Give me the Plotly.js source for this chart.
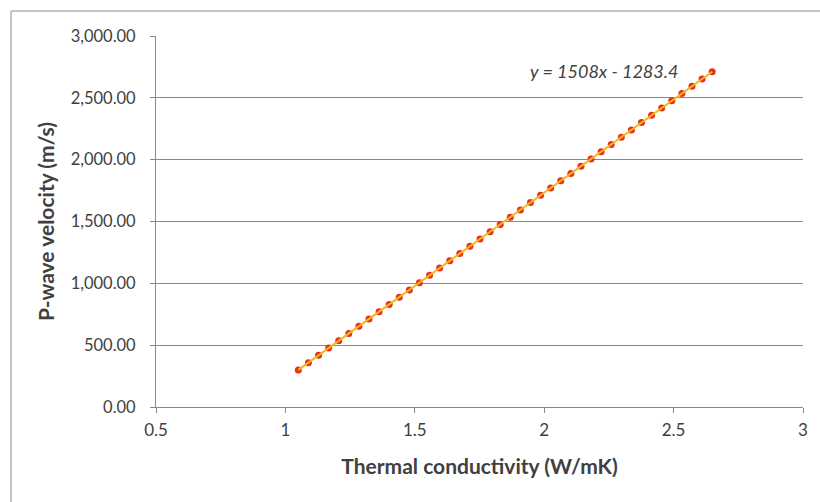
<!DOCTYPE html>
<html>
<head>
<meta charset="utf-8">
<script src="https://cdn.plot.ly/plotly-3.0.1.min.js"></script>
<style>
html,body{margin:0;padding:0;background:#fff;}
#chart{width:820px;height:502px;}
</style>
</head>
<body>
<div id="chart"></div>
<script>
// Thermal conductivity (W/mK)
var conductivity = [1.05,1.089,1.128,1.167,1.206,1.245,1.284,1.323,1.362,1.401,1.44,1.479,1.518,1.557,1.596,1.635,1.674,1.713,1.752,1.791,1.83,1.869,1.908,1.947,1.986,2.025,2.064,2.103,2.142,2.181,2.22,2.259,2.298,2.337,2.376,2.415,2.454,2.493,2.532,2.571,2.61,2.649];
// P-wave velocity (m/s)
var velocity = [300.0,358.8,417.6,476.4,535.2,594.1,652.9,711.7,770.5,829.3,888.1,946.9,1005.7,1064.6,1123.4,1182.2,1241.0,1299.8,1358.6,1417.4,1476.2,1535.1,1593.9,1652.7,1711.5,1770.3,1829.1,1887.9,1946.7,2005.5,2064.4,2123.2,2182.0,2240.8,2299.6,2358.4,2417.2,2476.0,2534.9,2593.7,2652.5,2711.3];
var slope = 1508;
var intercept = -1283.4;
var equationText = "y = 1508x - 1283.4";
var xTicks = [0.5,1,1.5,2,2.5,3];
var xTickText = ["0.5","1","1.5","2","2.5","3"];
var yTicks = [0,500,1000,1500,2000,2500,3000];
var yTickText = ["0.00","500.00","1,000.00","1,500.00","2,000.00","2,500.00","3,000.00"];

var trendX = [conductivity[0], conductivity[conductivity.length-1]];
var trendY = trendX.map(function(x){return slope*x + intercept;});

var FONT = "Lato, 'Open Sans', sans-serif";
var TXT = "#404040";
var GRID = "#898989";

var data = [
  {x: conductivity, y: velocity, type: "scatter", mode: "markers",
   marker: {color: "#E5321B", size: 7, line: {width: 0}}, hoverinfo: "x+y"},
  {x: trendX, y: trendY, type: "scatter", mode: "lines",
   line: {color: "#F8B41A", width: 2}, hoverinfo: "skip"}
];

var layout = {
  width: 820, height: 502,
  margin: {l: 156, r: 17, t: 36, b: 95},
  paper_bgcolor: "#fff", plot_bgcolor: "#fff",
  showlegend: false,
  font: {family: FONT, color: TXT, size: 17},
  xaxis: {
    range: [0.5, 3], tickvals: xTicks, ticktext: xTickText,
    showgrid: false, zeroline: false, showline: true, linecolor: GRID, linewidth: 1,
    ticks: "outside", ticklen: 5, tickcolor: GRID, tickwidth: 1,
    ticklabelstandoff: 3,
    tickfont: {family: FONT, size: 17, color: TXT},
    title: {text: "Thermal conductivity (W/mK)", font: {family: FONT, size: 21, color: TXT, weight: "bold"}, standoff: 19}
  },
  yaxis: {
    range: [0, 3000], tickvals: yTicks, ticktext: yTickText,
    showgrid: true, gridcolor: GRID, gridwidth: 1, zeroline: false,
    showline: true, linecolor: GRID, linewidth: 1,
    ticks: "outside", ticklen: 5, tickcolor: GRID, tickwidth: 1,
    ticklabelstandoff: 11,
    tickfont: {family: FONT, size: 16.5, color: TXT},
    title: {text: "P-wave velocity (m/s)", font: {family: FONT, size: 21, color: TXT, weight: "bold"}, standoff: 10}
  },
  annotations: [{
    x: 1.938, y: 2717, xref: "x", yref: "y", xanchor: "left", yanchor: "middle",
    text: "<i>" + equationText + "</i>", showarrow: false,
    font: {family: FONT, size: 18, color: TXT}
  }],
  shapes: [{
    type: "rect", xref: "paper", yref: "paper",
    x0: -0.2241, x1: 1.2, y0: -0.5, y1: 1.0674,
    line: {color: "#8c8c8c", width: 1}, layer: "below"
  }]
};

Plotly.newPlot("chart", data, layout, {displayModeBar: false, staticPlot: true});
</script>
</body>
</html>
